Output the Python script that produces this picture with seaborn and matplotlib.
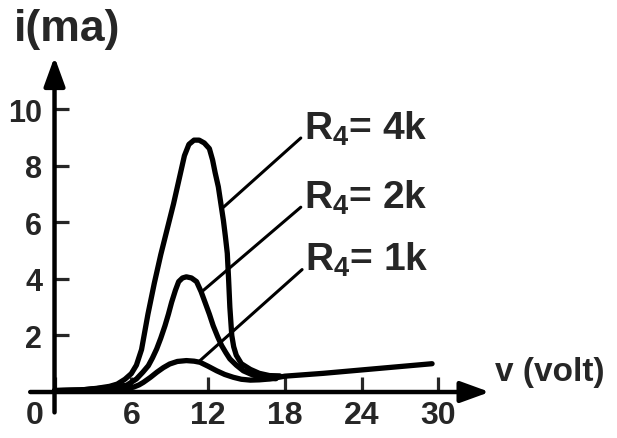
import matplotlib
matplotlib.use("Agg")
import matplotlib.pyplot as plt
import matplotlib.transforms as mtransforms
import seaborn as sns

# -------------------------------
# Data (V in volt, i in mA)
# -------------------------------
v_4k = [0, 2.0, 3.3, 4.3, 4.9, 5.5, 6.0, 6.4, 6.8, 7.3, 7.8, 8.3, 8.8, 9.3, 9.75,
        10.15, 10.5, 10.9, 11.3, 11.7, 12.1, 12.35, 12.55, 12.8, 13.0, 13.2, 13.35,
        13.5, 13.6, 13.7, 13.85, 14.0, 14.2, 14.6, 15.3, 16.0, 16.8, 17.6]
i_4k = [0.05, 0.07, 0.13, 0.2, 0.28, 0.45, 0.65, 0.95, 1.5, 2.75, 3.85, 4.85, 5.75,
        6.65, 7.55, 8.35, 8.75, 8.9, 8.9, 8.8, 8.6, 8.2, 7.75, 7.25, 6.65, 6.05, 5.5,
        4.9, 4.0, 3.0, 2.0, 1.6, 1.3, 1.0, 0.8, 0.66, 0.58, 0.57]

v_2k = [0, 2.0, 3.3, 4.3, 5.0, 5.64, 6.4, 6.9, 7.33, 7.65, 7.98, 8.3, 8.63, 8.9, 9.15,
        9.45, 9.7, 10.0, 10.3, 10.7, 11.1, 11.45, 11.76, 12.1, 12.4, 12.75, 13.06,
        13.4, 13.7, 14.2, 14.75, 15.4, 16.05, 16.7, 17.3]
i_2k = [0.05, 0.07, 0.12, 0.16, 0.2, 0.24, 0.46, 0.7, 0.93, 1.2, 1.52, 1.9, 2.34, 2.75,
        3.17, 3.6, 3.9, 4.03, 4.07, 4.03, 3.9, 3.55, 3.17, 2.75, 2.34, 1.95, 1.64,
        1.38, 1.17, 0.95, 0.75, 0.62, 0.52, 0.48, 0.47]

v_1k = [0, 2.0, 3.3, 4.5, 5.5, 6.16, 6.6, 6.94, 7.5, 8.0, 8.5, 9.0, 9.6, 10.3, 10.9,
        11.37, 12.0, 12.67, 13.3, 13.97, 14.6, 15.3, 16.0, 16.8, 18.0, 21.0, 24.0,
        27.0, 29.5]
i_1k = [0.05, 0.07, 0.1, 0.12, 0.13, 0.17, 0.25, 0.34, 0.52, 0.7, 0.86, 0.99, 1.08,
        1.11, 1.09, 1.05, 0.91, 0.75, 0.62, 0.52, 0.45, 0.42, 0.43, 0.46, 0.56, 0.66,
        0.78, 0.9, 1.0]

x_ticks = [0, 6, 12, 18, 24, 30]
y_ticks = [2, 4, 6, 8, 10]

labels = ["R$_4$= 4k", "R$_4$= 2k", "R$_4$= 1k"]
leader_from = [(13.2, 6.53), (11.6, 3.58), (11.37, 1.11)]
label_at = [(19.5, 9.35), (19.5, 6.9), (19.6, 4.7)]

# -------------------------------
# Style
# -------------------------------
sns.set_style("white")
plt.rcParams["font.family"] = ["Liberation Sans", "DejaVu Sans"]
plt.rcParams["font.weight"] = "bold"
plt.rcParams["mathtext.fontset"] = "custom"
plt.rcParams["mathtext.rm"] = "Liberation Sans:bold"
plt.rcParams["mathtext.it"] = "Liberation Sans:bold"
plt.rcParams["mathtext.bf"] = "Liberation Sans:bold"
plt.rcParams["mathtext.default"] = "rm"

fig = plt.figure(figsize=(6.17, 4.39), dpi=100)
ax = fig.add_axes([0, 0, 1, 1])
ax.set_xlim(-4.26, 43.95)
ax.set_ylim(-1.625, 13.887)

# -------------------------------
# Curves
# -------------------------------
for vv, ii in [(v_4k, i_4k), (v_2k, i_2k), (v_1k, i_1k)]:
    sns.lineplot(x=vv, y=ii, ax=ax, color="black", lw=3.8, sort=False,
                 estimator=None, solid_capstyle="round", solid_joinstyle="round")

# leader lines + labels
for txt, p0, p1 in zip(labels, leader_from, label_at):
    ax.annotate(txt, xy=p0, xytext=p1, fontsize=28, fontweight="bold",
                ha="left", va="center",
                arrowprops=dict(arrowstyle="-", lw=2.2, color="black",
                                shrinkA=0, shrinkB=0, relpos=(0, 0.3)))

# -------------------------------
# Axes with arrows
# -------------------------------
for s in ax.spines.values():
    s.set_visible(False)
ax.spines["left"].set_position(("data", 0))
ax.spines["bottom"].set_position(("data", 0))

ax.annotate("", xy=(34.0, 0), xytext=(-1.9, 0),
            arrowprops=dict(arrowstyle="-|>,head_length=1.1,head_width=0.4",
                            lw=3.2, color="black", mutation_scale=16,
                            shrinkA=0, shrinkB=0))
ax.annotate("", xy=(0, 11.84), xytext=(0, -0.72),
            arrowprops=dict(arrowstyle="-|>,head_length=1.1,head_width=0.4",
                            lw=3.2, color="black", mutation_scale=16,
                            shrinkA=0, shrinkB=0))

ax.set_xticks(x_ticks)
ax.set_xticklabels([str(t) for t in x_ticks])
ax.set_yticks(y_ticks)
ax.set_yticklabels([str(t) for t in y_ticks])
ax.tick_params(axis="x", direction="in", length=11, width=2.3, pad=6,
               labelsize=23, bottom=True)
ax.tick_params(axis="y", direction="in", length=10, width=2.3, pad=9,
               labelsize=22, left=True)
for lab in ax.get_xticklabels():
    lab.set_fontweight("bold")
for lab in ax.get_yticklabels():
    lab.set_fontweight("bold")

# the "0" sits left of the vertical axis
zero_lab = ax.get_xticklabels()[0]
zero_lab.set_transform(zero_lab.get_transform() +
                       mtransforms.ScaledTranslation(-14 / 72, 0, fig.dpi_scale_trans))

ax.text(-3.2, 12.85, "i(ma)", fontsize=32, fontweight="bold", ha="left", va="center")
ax.text(34.4, 0.72, "v (volt)", fontsize=24, fontweight="bold", ha="left", va="center")

fig.savefig("out.png", dpi=100, facecolor="white")
